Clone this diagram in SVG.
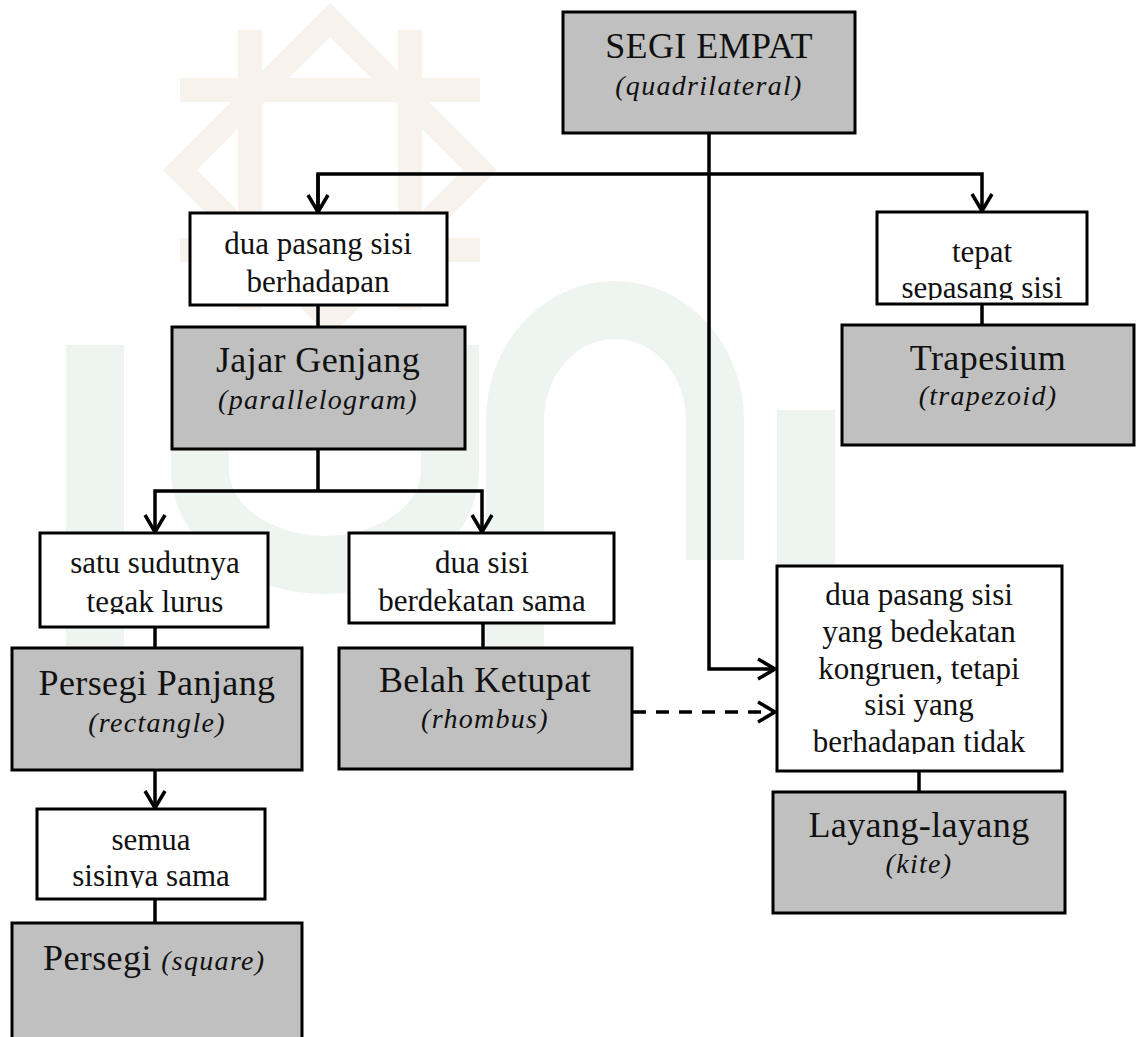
<svg xmlns="http://www.w3.org/2000/svg" width="1140" height="1037" viewBox="0 0 1140 1037">
  <style>
    .term { fill: #c0c0c0; stroke: #000; stroke-width: 3; }
    .cond { fill: #fff; stroke: #000; stroke-width: 3; }
    .big { font-family: "Liberation Serif", "Times New Roman", serif; font-size: 36px; letter-spacing: 0.4px; fill: #111; text-anchor: middle; }
    .it { font-family: "Liberation Serif", "Times New Roman", serif; font-size: 28px; font-style: italic; letter-spacing: 1.3px; fill: #111; text-anchor: middle; }
    .lbl { font-family: "Liberation Serif", "Times New Roman", serif; font-size: 31px; fill: #111; text-anchor: middle; }
    .link { fill: none; stroke: #000; stroke-width: 3.5; }
    .dash { stroke-dasharray: 13 10; }
  </style>
  <defs>
    <marker id="arrow" markerUnits="userSpaceOnUse" markerWidth="24" markerHeight="26" viewBox="-20 -13 24 26" refX="0" refY="0" orient="auto">
      <path d="M -17 -10 L 0 0 L -17 10" fill="none" stroke="#000" stroke-width="3.5"/>
    </marker>
    <clipPath id="clipA"><rect x="190" y="213" width="257" height="81"/></clipPath>
    <clipPath id="clipB"><rect x="877" y="212" width="210" height="88"/></clipPath>
    <clipPath id="clipC"><rect x="40" y="533" width="228" height="81"/></clipPath>
    <clipPath id="clipD"><rect x="777" y="566" width="285" height="188"/></clipPath>
    <clipPath id="clipE"><rect x="37" y="809" width="228" height="79"/></clipPath>
  </defs>

  <rect width="1140" height="1037" fill="#fff"/>

  <!-- faint background emblem -->
  <g id="emblem" fill="none">
    <g stroke="#f7f3ec" stroke-width="24">
      <path d="M 330 20 L 480 170 L 330 320 L 180 170 Z"/>
      <path d="M 250 30 L 250 310 M 410 30 L 410 310"/>
      <path d="M 180 90 L 480 90 M 180 250 L 480 250"/>
    </g>
    <g stroke="#eef4f0" stroke-width="58">
      <path d="M 95 345 V 705"/>
      <path d="M 200 345 V 470 A 125 95 0 0 0 450 470 V 345"/>
      <path d="M 515 710 V 420 A 100 110 0 0 1 715 420 V 560"/>
      <path d="M 806 410 V 700"/>
    </g>
  </g>

  <!-- connectors -->
  <g id="connectors">
    <path class="link" d="M 709 133 V 669 H 775" marker-end="url(#arrow)"/>
    <path class="link" d="M 318 212 V 174 H 709"/>
    <path class="link" d="M 318 174 V 212" marker-end="url(#arrow)"/>
    <path class="link" d="M 709 174 H 982 V 211" marker-end="url(#arrow)"/>
    <path class="link" d="M 318 305 V 327"/>
    <path class="link" d="M 982 304 V 325"/>
    <path class="link" d="M 318 449 V 491"/>
    <path class="link" d="M 318 491 H 155 V 532" marker-end="url(#arrow)"/>
    <path class="link" d="M 318 491 H 482 V 532" marker-end="url(#arrow)"/>
    <path class="link" d="M 155 627 V 648"/>
    <path class="link" d="M 483 623 V 648"/>
    <path class="link" d="M 155 770 V 808" marker-end="url(#arrow)"/>
    <path class="link" d="M 155 899 V 923"/>
    <path class="link dash" d="M 633 712 H 775" marker-end="url(#arrow)"/>
    <path class="link" d="M 919 771 V 792"/>
  </g>

  <g id="quadrilateral">
    <rect class="term" x="563" y="12" width="292" height="121"/>
    <text class="big" x="709" y="58">SEGI EMPAT</text>
    <text class="it" x="709" y="95">(quadrilateral)</text>
  </g>

  <g id="cond-two-pairs">
    <rect class="cond" x="190" y="213" width="257" height="92"/>
    <g clip-path="url(#clipA)">
      <text class="lbl" x="318" y="254">dua pasang sisi</text>
      <text class="lbl" x="318" y="292">berhadapan</text>
    </g>
  </g>

  <g id="cond-one-pair">
    <rect class="cond" x="877" y="212" width="210" height="92"/>
    <g clip-path="url(#clipB)">
      <text class="lbl" x="982" y="262">tepat</text>
      <text class="lbl" x="982" y="298">sepasang sisi</text>
    </g>
  </g>

  <g id="parallelogram">
    <rect class="term" x="172" y="327" width="293" height="122"/>
    <text class="big" x="318" y="372">Jajar Genjang</text>
    <text class="it" x="318" y="409">(parallelogram)</text>
  </g>

  <g id="trapezoid">
    <rect class="term" x="842" y="325" width="292" height="120"/>
    <text class="big" x="988" y="370">Trapesium</text>
    <text class="it" x="988" y="405">(trapezoid)</text>
  </g>

  <g id="cond-right-angle">
    <rect class="cond" x="40" y="533" width="228" height="94"/>
    <g clip-path="url(#clipC)">
      <text class="lbl" x="155" y="573">satu sudutnya</text>
      <text class="lbl" x="155" y="612">tegak lurus</text>
    </g>
  </g>

  <g id="cond-adjacent-equal">
    <rect class="cond" x="349" y="533" width="265" height="90"/>
    <text class="lbl" x="482" y="573">dua sisi</text>
    <text class="lbl" x="482" y="611">berdekatan sama</text>
  </g>

  <g id="rectangle">
    <rect class="term" x="12" y="648" width="290" height="122"/>
    <text class="big" x="157" y="695">Persegi Panjang</text>
    <text class="it" x="157" y="732">(rectangle)</text>
  </g>

  <g id="rhombus">
    <rect class="term" x="339" y="648" width="293" height="121"/>
    <text class="big" x="485" y="692">Belah Ketupat</text>
    <text class="it" x="485" y="728">(rhombus)</text>
  </g>

  <g id="cond-kite">
    <rect class="cond" x="777" y="566" width="285" height="205"/>
    <g clip-path="url(#clipD)">
      <text class="lbl" x="919" y="605">dua pasang sisi</text>
      <text class="lbl" x="919" y="642">yang bedekatan</text>
      <text class="lbl" x="919" y="679">kongruen, tetapi</text>
      <text class="lbl" x="919" y="715">sisi yang</text>
      <text class="lbl" x="919" y="752">berhadapan tidak</text>
    </g>
  </g>

  <g id="kite">
    <rect class="term" x="773" y="792" width="292" height="121"/>
    <text class="big" x="919" y="837">Layang-layang</text>
    <text class="it" x="919" y="873">(kite)</text>
  </g>

  <g id="cond-all-equal">
    <rect class="cond" x="37" y="809" width="228" height="90"/>
    <g clip-path="url(#clipE)">
      <text class="lbl" x="151" y="850">semua</text>
      <text class="lbl" x="151" y="886">sisinya sama</text>
    </g>
  </g>

  <g id="square">
    <rect class="term" x="12" y="923" width="290" height="130"/>
    <text class="big" x="43" y="970" style="text-anchor:start">Persegi <tspan class="it" style="text-anchor:start">(square)</tspan></text>
  </g>
</svg>
